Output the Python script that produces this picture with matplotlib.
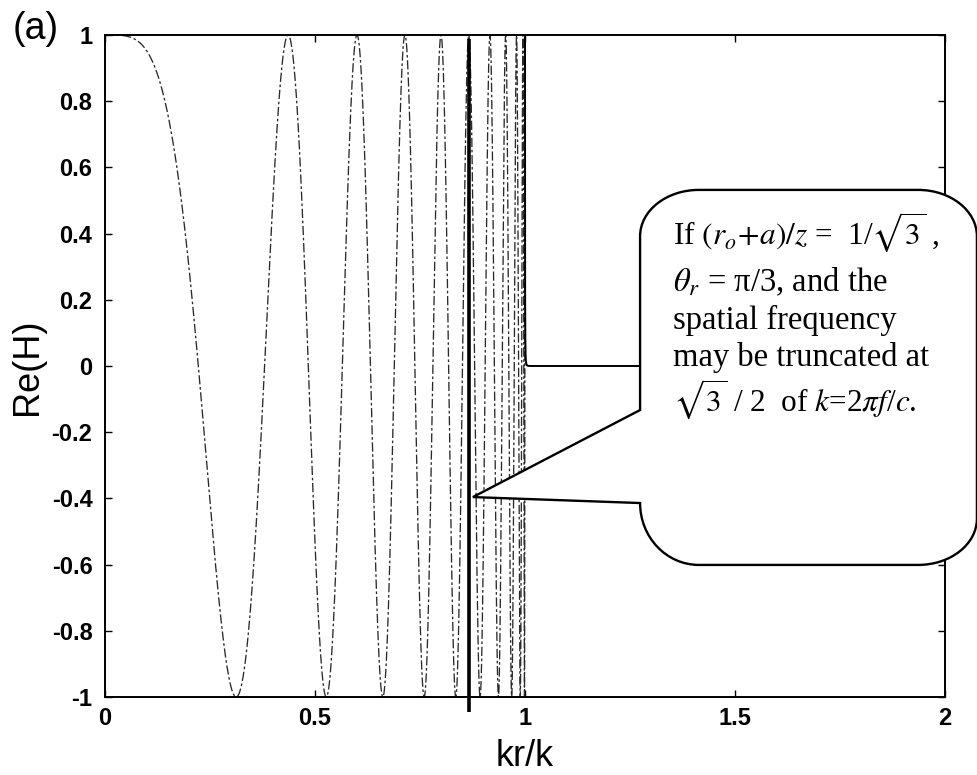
import numpy as np
import matplotlib
matplotlib.use("Agg")
import matplotlib.pyplot as plt
from matplotlib.path import Path
import matplotlib.patches as mpatches

plt.rcParams['axes.unicode_minus'] = False
plt.rcParams['mathtext.fontset'] = 'stix'

# ---- data -------------------------------------------------------------
x_ticks = [0, 0.5, 1, 1.5, 2]
x_tick_labels = ['0', '0.5', '1', '1.5', '2']
y_ticks = [-1, -0.8, -0.6, -0.4, -0.2, 0, 0.2, 0.4, 0.6, 0.8, 1]
y_tick_labels = ['-1', '-0.8', '-0.6', '-0.4', '-0.2', '0', '0.2', '0.4', '0.6', '0.8', '1']

# propagation phase k*z (20 full cycles of Re(H) between kr/k = 0 and 1)
kz = 20 * np.pi
# spatial-frequency truncation point stated in the note
truncation = np.sqrt(3) / 2

kr_over_k = np.linspace(0.0, 2.0, 60001)
kz_over_k = np.sqrt((1.0 - kr_over_k**2).astype(complex))
re_h = np.real(np.exp(1j * kz * kz_over_k))

propagating = kr_over_k <= 1.0
evanescent = kr_over_k >= 1.0

# ---- figure -----------------------------------------------------------
W, H = 978, 775
fig = plt.figure(figsize=(W / 100, H / 100), dpi=100)
ax = fig.add_axes([105 / W, 1 - 697 / H, 840 / W, 662 / H])

ax.plot(kr_over_k[propagating], re_h[propagating], color='#2a2a2a', lw=0.95,
        linestyle=(0, (7, 2, 2, 2)), zorder=2)
ax.plot(kr_over_k[evanescent], re_h[evanescent], color='black', lw=1.4,
        zorder=2, solid_capstyle='butt')

# truncation marker at sqrt(3)/2
ax.plot([truncation, truncation], [-1.045, 0.988], color='black', lw=2.6,
        clip_on=False, zorder=3, solid_capstyle='butt')

ax.set_xlim(0, 2)
ax.set_ylim(-1, 1)
ax.set_xticks(x_ticks)
ax.set_xticklabels(x_tick_labels)
ax.set_yticks(y_ticks)
ax.set_yticklabels(y_tick_labels)
ax.tick_params(direction='in', top=True, right=True, length=5, width=1.0,
               labelsize=17)
ax.tick_params(axis='x', pad=7.5)
ax.tick_params(axis='y', pad=9)
for lab in ax.get_xticklabels() + ax.get_yticklabels():
    lab.set_fontfamily('Liberation Sans')
    lab.set_fontweight('bold')
for sp in ax.spines.values():
    sp.set_linewidth(1.4)

# ---- callout ----------------------------------------------------------
tip = (0.876, -0.396)
left, right, top, bot = 1.274, 2.076, 0.532, -0.601
att_hi, att_lo = -0.133, -0.414
rx, ry = 0.14, 0.14
c = 0.5523

def corner(p0, cnr, p3):
    p1 = (p0[0] + c * (cnr[0] - p0[0]), p0[1] + c * (cnr[1] - p0[1]))
    p2 = (p3[0] + c * (cnr[0] - p3[0]), p3[1] + c * (cnr[1] - p3[1]))
    return [p1, p2, p3], [Path.CURVE4] * 3

verts = [tip, (left, att_hi), (left, top - ry)]
codes = [Path.MOVETO, Path.LINETO, Path.LINETO]
v, cd = corner((left, top - ry), (left, top), (left + rx, top)); verts += v; codes += cd
verts.append((right - rx, top)); codes.append(Path.LINETO)
v, cd = corner((right - rx, top), (right, top), (right, top - ry)); verts += v; codes += cd
verts.append((right, bot + ry)); codes.append(Path.LINETO)
v, cd = corner((right, bot + ry), (right, bot), (right - rx, bot)); verts += v; codes += cd
verts.append((left + rx, bot)); codes.append(Path.LINETO)
v, cd = corner((left + rx, bot), (left, bot), (left, att_lo)); verts += v; codes += cd
verts.append(tip); codes.append(Path.LINETO)
verts.append(tip); codes.append(Path.CLOSEPOLY)

callout = mpatches.PathPatch(Path(verts, codes), facecolor='white',
                             edgecolor='black', lw=1.7, joinstyle='miter',
                             clip_on=False, zorder=5)
ax.add_patch(callout)

note_lines = [
    r'If $(r_o\!+\!a)/z$ =  1/$\sqrt{3}$ ,',
    r'$\theta_r$ = π/3, and the',
    r'spatial frequency',
    r'may be truncated at',
    r'$\sqrt{3}$ / 2  of $k$=2$\pi f$/$c$.',
]
note_baselines = [244, 291, 329, 366, 411]
note_sizes = [22.5, 23.5, 23.5, 23.5, 22.5]
for line, yb, fs in zip(note_lines, note_baselines, note_sizes):
    fig.text(673 / W, 1 - yb / H, line, fontsize=fs, family='Liberation Serif',
             va='baseline', ha='left', zorder=6)

# ---- labels -----------------------------------------------------------
fig.text(28 / W, 1 - 367 / H, 'Re(H)', rotation=90, fontsize=26,
         family='Liberation Sans', ha='center', va='center')
fig.text(525 / W, 1 - 756 / H, 'kr/k', fontsize=26,
         family='Liberation Sans', ha='center', va='center')
fig.text(13 / W, 1 - 29 / H, '(a)', fontsize=27,
         family='Liberation Sans', ha='left', va='center')

fig.savefig('out.png', dpi=100)
